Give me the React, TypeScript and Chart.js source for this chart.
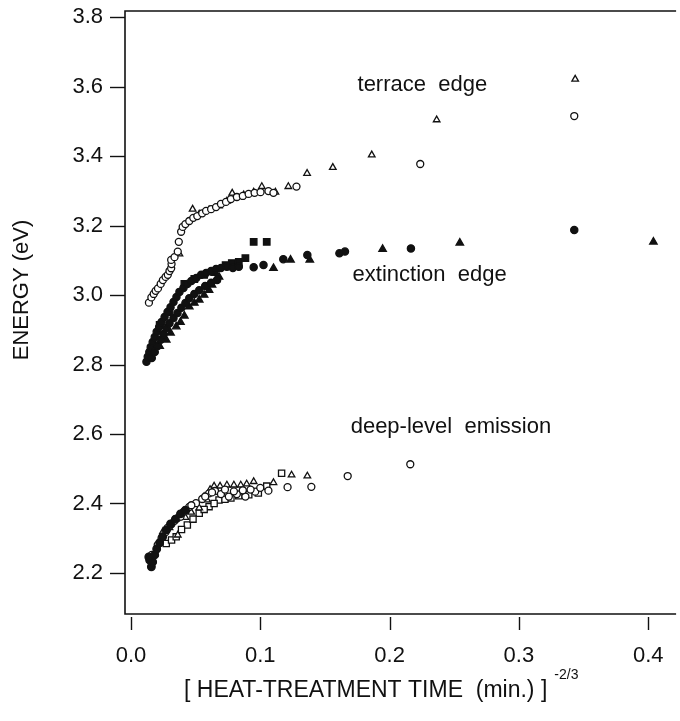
import React, { useEffect, useRef } from "react";
import { Chart, registerables } from "chart.js";

Chart.register(...registerables);

// ---------- data ----------
const X_TICKS = [0.0, 0.1, 0.2, 0.3, 0.4];
const Y_TICKS = [2.2, 2.4, 2.6, 2.8, 3.0, 3.2, 3.4, 3.6, 3.8];
const X_MIN = -0.0046;
const X_MAX = 0.42;
const Y_MIN = 2.082;
const Y_MAX = 3.8173;

const X_TITLE = "[ HEAT-TREATMENT TIME  (min.) ]";
const X_TITLE_SUP = "-2/3";
const Y_TITLE = "ENERGY (eV)";

const LABEL_TERRACE = "terrace  edge";
const LABEL_EXTINCTION = "extinction  edge";
const LABEL_DEEP = "deep-level  emission";

// terrace edge
const terraceCircles: [number, number][] = [
  [0.0139, 2.978], [0.0158, 2.993], [0.0176, 3.003], [0.0191, 3.012], [0.0209, 3.019],
  [0.023, 3.032], [0.0247, 3.043], [0.0268, 3.052], [0.0285, 3.058], [0.0298, 3.069],
  [0.0311, 3.077], [0.0314, 3.089], [0.0311, 3.101], [0.0337, 3.109], [0.0362, 3.125],
  [0.037, 3.153], [0.0388, 3.182], [0.04, 3.196], [0.0421, 3.204], [0.0451, 3.213],
  [0.0482, 3.222], [0.0513, 3.227], [0.0551, 3.235], [0.0581, 3.242], [0.062, 3.247],
  [0.0658, 3.253], [0.0696, 3.262], [0.0735, 3.268], [0.0773, 3.276], [0.0819, 3.282],
  [0.0865, 3.285], [0.091, 3.291], [0.0956, 3.294], [0.1002, 3.296], [0.1063, 3.299],
  [0.1102, 3.294], [0.128, 3.312], [0.2237, 3.377], [0.3428, 3.515],
];
const terraceTriangles: [number, number][] = [
  [0.0375, 3.118], [0.0477, 3.247], [0.0528, 3.233], [0.0604, 3.245], [0.0681, 3.256],
  [0.0742, 3.27], [0.0783, 3.293], [0.0872, 3.288], [0.0949, 3.296], [0.1012, 3.312],
  [0.1117, 3.296], [0.1217, 3.312], [0.1362, 3.35], [0.1561, 3.367], [0.1862, 3.403],
  [0.2364, 3.504], [0.3435, 3.621],
];

// extinction edge
const extinctionCircles: [number, number][] = [
  [0.012, 2.808], [0.013, 2.822], [0.0142, 2.836], [0.0153, 2.85], [0.0168, 2.865],
  [0.0184, 2.879], [0.0199, 2.894], [0.0218, 2.908], [0.0237, 2.922], [0.026, 2.937],
  [0.0283, 2.951], [0.0306, 2.965], [0.0329, 2.98], [0.0352, 2.994], [0.0375, 3.009],
  [0.0406, 3.02], [0.0436, 3.032], [0.0467, 3.04], [0.0505, 3.049], [0.0543, 3.058],
  [0.0581, 3.063], [0.062, 3.069], [0.0658, 3.075], [0.0696, 3.078], [0.0742, 3.081],
  [0.0788, 3.078], [0.0834, 3.081], [0.0949, 3.08], [0.1025, 3.086], [0.1178, 3.103],
  [0.1364, 3.115], [0.1612, 3.12], [0.1655, 3.125], [0.2165, 3.134], [0.3428, 3.187],
  [0.0161, 2.819], [0.0184, 2.836], [0.0207, 2.853], [0.023, 2.871], [0.0252, 2.888],
  [0.0275, 2.905], [0.0298, 2.919], [0.0329, 2.934], [0.036, 2.948], [0.039, 2.963],
  [0.0421, 2.977], [0.0451, 2.991], [0.049, 3.003], [0.0528, 3.014], [0.0574, 3.026],
  [0.062, 3.035], [0.0666, 3.043],
];
const extinctionSquares: [number, number][] = [
  [0.0222, 2.914], [0.0298, 2.951], [0.0413, 3.032], [0.049, 3.046], [0.0566, 3.058],
  [0.0643, 3.066], [0.0732, 3.086], [0.078, 3.092], [0.0834, 3.095], [0.0885, 3.106],
  [0.0949, 3.153], [0.105, 3.153],
];
const extinctionTriangles: [number, number][] = [
  [0.0222, 2.853], [0.0273, 2.871], [0.0306, 2.891], [0.035, 2.909], [0.0383, 2.922],
  [0.0413, 2.94], [0.0451, 2.966], [0.049, 2.977], [0.0528, 2.986], [0.0566, 3.0],
  [0.0604, 3.014], [0.0627, 3.029], [0.0656, 3.043], [0.0681, 3.052], [0.1102, 3.077],
  [0.1234, 3.101], [0.1383, 3.101], [0.1946, 3.132], [0.2543, 3.15], [0.404, 3.153],
];

// deep-level emission
const deepFilled: [number, number][] = [
  [0.0145, 2.237], [0.0158, 2.218], [0.0168, 2.232], [0.0138, 2.246], [0.0184, 2.252],
  [0.0199, 2.269], [0.0222, 2.287], [0.0245, 2.304], [0.0275, 2.324], [0.0306, 2.341],
  [0.0344, 2.355], [0.0383, 2.37], [0.0421, 2.381],
];
const deepCircles: [number, number][] = [
  [0.0161, 2.252], [0.0207, 2.281], [0.0237, 2.301], [0.0268, 2.318], [0.0314, 2.341],
  [0.036, 2.358], [0.0406, 2.376], [0.0451, 2.39], [0.0503, 2.401], [0.0551, 2.413],
  [0.0604, 2.429], [0.065, 2.436], [0.0696, 2.427], [0.0757, 2.42], [0.0819, 2.427],
  [0.0885, 2.42], [0.0961, 2.434], [0.1063, 2.437], [0.1211, 2.447], [0.1395, 2.448],
  [0.1676, 2.479], [0.216, 2.513],
  [0.0283, 2.33], [0.0337, 2.35], [0.0383, 2.362], [0.0467, 2.395], [0.0574, 2.42],
  [0.0627, 2.432], [0.0727, 2.44], [0.0796, 2.435], [0.0865, 2.438], [0.0925, 2.44],
  [0.1, 2.445],
];
const deepTriangles: [number, number][] = [
  [0.0247, 2.319], [0.0362, 2.309], [0.0528, 2.387], [0.0589, 2.41], [0.0643, 2.45],
  [0.0689, 2.45], [0.0742, 2.453], [0.0796, 2.453], [0.0849, 2.453], [0.0895, 2.456],
  [0.0949, 2.463], [0.1102, 2.46], [0.1242, 2.482], [0.1364, 2.479],
  [0.0298, 2.33], [0.0421, 2.36], [0.0466, 2.375], [0.0566, 2.42], [0.0612, 2.44],
];
const deepSquares: [number, number][] = [
  [0.0273, 2.285], [0.0314, 2.295], [0.035, 2.304], [0.0436, 2.338], [0.0528, 2.372],
  [0.0604, 2.391], [0.0681, 2.41], [0.0773, 2.416], [0.0834, 2.422], [0.105, 2.45],
  [0.1165, 2.487],
  [0.0391, 2.325], [0.048, 2.355], [0.0566, 2.383], [0.0643, 2.4], [0.0727, 2.412],
  [0.0911, 2.425], [0.0985, 2.43],
];

const INK = "#111111";
const FONT = "'Liberation Sans', Arial, Helvetica, sans-serif";

const toPts = (arr: [number, number][]) => arr.map(([x, y]) => ({ x, y }));

function ds(label: string, arr: [number, number][], style: string, filled: boolean, radius: number) {
  return {
    label,
    data: toPts(arr),
    pointStyle: style,
    pointRadius: radius,
    pointBorderWidth: 1.3,
    pointBorderColor: INK,
    pointBackgroundColor: filled ? INK : "#ffffff",
    showLine: false,
  };
}

const framePlugin = {
  id: "frame",
  afterDraw(chart: any) {
    const { ctx, chartArea, scales } = chart;
    const xs = scales.x;
    const ys = scales.y;
    ctx.save();
    ctx.strokeStyle = INK;
    ctx.lineWidth = 1.6;
    ctx.beginPath();
    ctx.moveTo(chartArea.right + 2, chartArea.top);
    ctx.lineTo(chartArea.left, chartArea.top);
    ctx.lineTo(chartArea.left, chartArea.bottom);
    ctx.lineTo(chartArea.right + 2, chartArea.bottom);
    ctx.stroke();
    // y tick marks
    ctx.lineWidth = 1.4;
    Y_TICKS.forEach((v) => {
      const py = Math.round(ys.getPixelForValue(v)) + 0.5;
      ctx.beginPath();
      ctx.moveTo(chartArea.left - 15, py);
      ctx.lineTo(chartArea.left, py);
      ctx.stroke();
    });
    // x tick marks (detached below frame)
    X_TICKS.forEach((v) => {
      const px = Math.round(xs.getPixelForValue(v)) + 0.5;
      ctx.beginPath();
      ctx.moveTo(px, chartArea.bottom + 3);
      ctx.lineTo(px, chartArea.bottom + 16);
      ctx.stroke();
    });
    // annotation texts
    ctx.fillStyle = INK;
    ctx.font = `22px ${FONT}`;
    ctx.textAlign = "left";
    ctx.textBaseline = "alphabetic";
    ctx.fillText(LABEL_TERRACE, xs.getPixelForValue(0.1752), ys.getPixelForValue(3.587));
    ctx.fillText(LABEL_EXTINCTION, xs.getPixelForValue(0.1714), ys.getPixelForValue(3.04));
    ctx.fillText(LABEL_DEEP, xs.getPixelForValue(0.1699), ys.getPixelForValue(2.603));
    // x title
    ctx.font = `23px ${FONT}`;
    const tx = 184;
    const ty = 697;
    ctx.fillText(X_TITLE, tx, ty);
    const w = ctx.measureText(X_TITLE).width;
    ctx.font = `14px ${FONT}`;
    ctx.fillText(X_TITLE_SUP, tx + w + 7, ty - 18);
    // y title
    ctx.font = `22px ${FONT}`;
    ctx.translate(28, 290);
    ctx.rotate(-Math.PI / 2);
    ctx.textAlign = "center";
    ctx.fillText(Y_TITLE, 0, 0);
    ctx.restore();
  },
};

export default function App() {
  const ref = useRef<HTMLCanvasElement | null>(null);
  useEffect(() => {
    if (!ref.current) return;
    const chart = new Chart(ref.current, {
      type: "scatter",
      data: {
        datasets: [
          ds("terrace circles", terraceCircles, "circle", false, 3.5),
          ds("terrace triangles", terraceTriangles, "triangle", false, 3.8),
          ds("extinction circles", extinctionCircles, "circle", true, 3.6),
          ds("extinction squares", extinctionSquares, "rect", true, 4.6),
          ds("extinction triangles", extinctionTriangles, "triangle", true, 4.3),
          ds("deep filled", deepFilled, "circle", true, 3.8),
          ds("deep circles", deepCircles, "circle", false, 3.5),
          ds("deep triangles", deepTriangles, "triangle", false, 3.8),
          ds("deep squares", deepSquares, "rect", false, 4.4),
        ] as any,
      },
      options: {
        animation: false,
        responsive: false,
        maintainAspectRatio: false,
        layout: { padding: { top: 11, right: 0, bottom: 0, left: 0 } },
        plugins: { legend: { display: false }, tooltip: { enabled: false } },
        scales: {
          x: {
            type: "linear",
            min: X_MIN,
            max: X_MAX,
            grid: { display: false, drawTicks: false },
            border: { display: false },
            afterBuildTicks: (s: any) => {
              s.ticks = X_TICKS.map((v) => ({ value: v }));
            },
            afterFit: (s: any) => {
              s.height = 721 - 614;
              s.paddingLeft = 0;
              s.paddingRight = 0;
            },
            ticks: {
              color: INK,
              font: { family: FONT, size: 22 },
              padding: 29,
              maxRotation: 0,
              autoSkip: false,
              callback: (v: any) => Number(v).toFixed(1),
            },
          },
          y: {
            type: "linear",
            min: Y_MIN,
            max: Y_MAX,
            grid: { display: false, drawTicks: false },
            border: { display: false },
            afterBuildTicks: (s: any) => {
              s.ticks = Y_TICKS.map((v) => ({ value: v }));
            },
            afterFit: (s: any) => {
              s.width = 125;
              s.paddingTop = 0;
              s.paddingBottom = 0;
            },
            ticks: {
              color: INK,
              font: { family: FONT, size: 22 },
              padding: 22,
              autoSkip: false,
              callback: (v: any) => Number(v).toFixed(1),
            },
          },
        },
      },
      plugins: [framePlugin],
    });
    return () => chart.destroy();
  }, []);
  return (
    <div style={{ position: "absolute", left: 0, top: 0, width: 680, height: 721, background: "#fff" }}>
      <canvas ref={ref} width={680} height={721} style={{ display: "block" }} />
    </div>
  );
}
